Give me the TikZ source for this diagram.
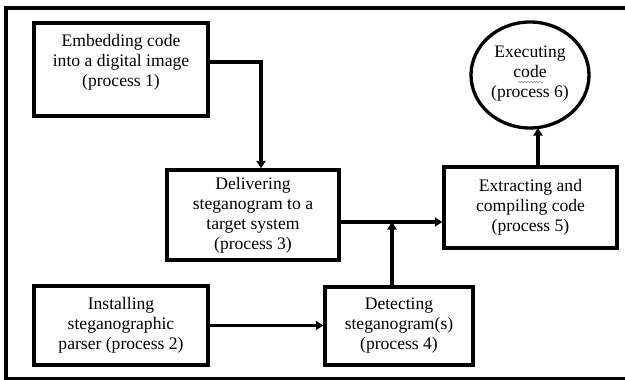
\documentclass[tikz,border=0pt]{standalone}
\usepackage{fontspec}
\setmainfont{Liberation Serif}
\usetikzlibrary{arrows.meta,calc,shapes.geometric,decorations.pathmorphing}
\begin{document}
\begin{tikzpicture}[x=1pt,y=-1pt,
  procbox/.style={draw,line width=3.3pt,rectangle,inner sep=0pt},
  proctext/.style={align=center,font=\fontsize{17.6}{20}\selectfont,inner sep=0pt},
  flow/.style={line width=3.3pt,-{Triangle[width=9pt,length=7.5pt]}}]
  \useasboundingbox (0,0) rectangle (625,380);
  % outer frame (open on the right)
  \draw[line width=3.4pt] (626,8) -- (6,8) -- (6,378.5) -- (626,378.5);

  % process boxes
  \node[procbox,minimum width=174pt,minimum height=93pt] (box1) at (121,69.5) {};
  \node[proctext] (t1) at (121,62) {Embedding code\\into a digital image\\(process 1)};

  \node[procbox,minimum width=172pt,minimum height=90pt,proctext] (box3) at (253,215)
    {Delivering\\steganogram to a\\target system\\(process 3)};

  \node[procbox,minimum width=174pt,minimum height=79pt,proctext] (box2) at (121,325.5)
    {Installing\\steganographic\\parser (process 2)};

  \node[procbox,minimum width=148pt,minimum height=78pt,proctext] (box4) at (399,326)
    {Detecting\\steganogram(s)\\(process 4)};

  \node[procbox,minimum width=173pt,minimum height=81pt,proctext] (box5) at (530.5,207.5)
    {Extracting and\\compiling code\\(process 5)};

  \node[draw,ellipse,line width=3.3pt,minimum width=118pt,minimum height=106pt,inner sep=0pt] (exec) at (530,75) {};
  \node[proctext] (t6) at (530,74) {Executing\\code\\(process 6)};
  % spell-check squiggle under "code"
  \coordinate (sq1) at (518,82);
  \coordinate (sq2) at (543,82);
  \draw[gray!80,line width=0.6pt,decorate,decoration={snake,amplitude=0.9pt,segment length=3pt}] (sq1) -- (sq2);

  % connectors
  \coordinate (bend1) at (261,62);
  \draw[flow] (box1.east |- t1) -- (bend1) -- (bend1 |- box3.north);

  \coordinate (join) at (392,222);
  \draw[flow] (box2.east) -- (box4.west |- box2.east);
  \draw[flow] (join |- box4.north) -- (join);
  \draw[flow] (box3.east |- join) -- (box5.west |- join);

  \coordinate (up5) at (538,128);
  \draw[flow] (up5 |- box5.north) -- (up5);
\end{tikzpicture}
\end{document}
